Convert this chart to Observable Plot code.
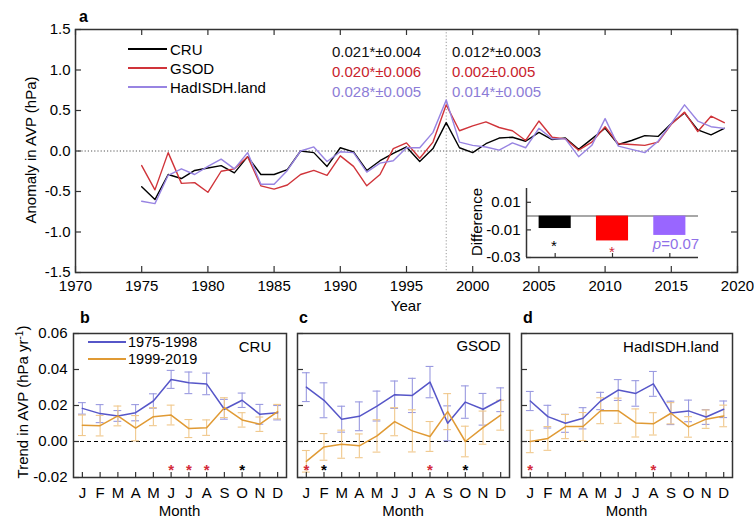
<!DOCTYPE html>
<html><head><meta charset="utf-8">
<script src="https://cdn.jsdelivr.net/npm/d3@7"></script>
<script src="https://cdn.jsdelivr.net/npm/@observablehq/plot@0.6"></script>
<style>
html,body{margin:0;padding:0;background:#fff;}
#root{position:relative;width:754px;height:519px;overflow:hidden;font-family:"Liberation Sans",Arial,sans-serif;color:#000;background:#fff;}
#root svg{position:absolute;overflow:visible;}
.t{position:absolute;white-space:nowrap;line-height:1;}
.ln{position:absolute;height:1.5px;}
</style></head><body><div id="root"></div>
<script>
// ---------- data: panel a (annual anomalies, hPa) ----------
const years = d3.range(1975, 2020);
const cru = [-0.44,-0.60,-0.29,-0.34,-0.24,-0.21,-0.18,-0.27,-0.07,-0.29,
             -0.29,-0.23,0.00,-0.02,-0.19,0.04,-0.01,-0.24,-0.12,-0.03,
             0.05,-0.13,0.03,0.35,0.04,-0.02,0.09,0.16,0.17,0.12,
             0.23,0.14,0.16,0.02,0.15,0.28,0.08,0.13,0.19,0.18,
             0.34,0.47,0.26,0.20,0.28];
const gsod = [-0.18,-0.48,-0.02,-0.40,-0.39,-0.51,-0.25,-0.22,-0.07,-0.43,
              -0.47,-0.42,-0.29,-0.24,-0.30,-0.06,-0.19,-0.43,-0.29,0.03,
              0.10,-0.09,0.11,0.57,0.25,0.31,0.36,0.29,0.25,0.13,
              0.37,0.17,0.15,0.01,0.11,0.30,0.09,0.08,0.07,0.11,
              0.33,0.48,0.24,0.43,0.35];
const hadisdh = [-0.62,-0.65,-0.30,-0.22,-0.29,-0.19,-0.10,-0.22,-0.02,-0.41,
                 -0.41,-0.24,0.00,0.05,-0.13,-0.01,-0.02,-0.26,-0.15,-0.12,
                 0.04,0.04,0.23,0.63,0.11,0.07,0.05,0.01,0.10,0.04,
                 0.28,0.15,0.15,-0.07,0.07,0.40,0.06,0.02,-0.02,0.12,
                 0.34,0.57,0.37,0.30,0.28];
const yearTicks = [1970,1975,1980,1985,1990,1995,2000,2005,2010,2015,2020];
const anomalyTicks = [-1.5,-1.0,-0.5,0.0,0.5,1.0,1.5];
const breakYear = 1998;
const seriesNames = ["CRU","GSOD","HadISDH.land"];
const trendEarly = ["0.021*±0.004","0.020*±0.006","0.028*±0.005"];
const trendLate = ["0.012*±0.003","0.002±0.005","0.014*±0.005"];
// inset: difference of trends
const diffValues = [-0.009,-0.018,-0.014];
const diffTicks = [-0.03,-0.01,0.01];
const diffNotes = ["*","*","p=0.07"];

// ---------- data: panels b-d (monthly trends, hPa/yr) ----------
const months = ["J","F","M","A","M","J","J","A","S","O","N","D"];
const trendTicks = [-0.02,0.00,0.02,0.04,0.06];
const periodNames = ["1975-1998","1999-2019"];
const cruEarly    = [0.0184,0.0155,0.0142,0.0160,0.0225,0.0345,0.0326,0.0320,0.0179,0.0229,0.0151,0.0160];
const cruEarlyErr = [0.0032,0.0050,0.0030,0.0045,0.0040,0.0050,0.0060,0.0060,0.0055,0.0040,0.0055,0.0040];
const cruLate     = [0.0090,0.0088,0.0142,0.0074,0.0138,0.0147,0.0072,0.0077,0.0188,0.0120,0.0096,0.0166];
const cruLateErr  = [0.0057,0.0057,0.0055,0.0070,0.0050,0.0055,0.0050,0.0043,0.0055,0.0040,0.0040,0.0040];
const gsodEarly    = [0.0302,0.0229,0.0124,0.0140,0.0197,0.0260,0.0256,0.0330,0.0101,0.0219,0.0179,0.0232];
const gsodEarlyErr = [0.0080,0.0097,0.0072,0.0080,0.0083,0.0076,0.0095,0.0087,0.0097,0.0090,0.0088,0.0066];
const gsodLate     = [-0.0110,-0.0030,-0.0015,-0.0024,0.0031,0.0110,0.0059,0.0028,0.0166,0.0000,0.0077,0.0146];
const gsodLateErr  = [0.0060,0.0074,0.0078,0.0066,0.0090,0.0078,0.0117,0.0083,0.0100,0.0085,0.0092,0.0083];
const hadEarly    = [0.0225,0.0138,0.0101,0.0129,0.0225,0.0286,0.0267,0.0320,0.0159,0.0170,0.0136,0.0179];
const hadEarlyErr = [0.0053,0.0063,0.0050,0.0059,0.0048,0.0058,0.0071,0.0069,0.0065,0.0060,0.0041,0.0046];
const hadLate     = [0.0000,0.0017,0.0083,0.0083,0.0171,0.0171,0.0103,0.0098,0.0157,0.0081,0.0124,0.0142];
const hadLateErr  = [0.0062,0.0066,0.0067,0.0078,0.0072,0.0070,0.0078,0.0062,0.0059,0.0057,0.0051,0.0060];
// significance stars: [month index (1-12), colour key]
const cruStars  = [[6,"r"],[7,"r"],[8,"r"],[10,"k"]];
const gsodStars = [[1,"r"],[2,"k"],[8,"r"],[10,"k"]];
const hadStars  = [[1,"r"],[8,"r"]];

// ---------- styling ----------
const FONT = '"Liberation Sans", Arial, sans-serif';
const C_CRU = "#000000", C_GSOD = "#d0343a", C_HAD = "#9884e2";
const seriesColors = [C_CRU, C_GSOD, C_HAD];
const textColors = ["#111111", "#c8222c", "#8c7cd6"];
const barColors = ["#000000", "#ff0000", "#9966ff"];
const C_EARLY = "#5656c8", C_LATE = "#e09a34";
const C_EARLY_E = "#9a9ae0", C_LATE_E = "#f0c88c";
const starColors = {r: "#d42a3a", k: "#000000"};

const root = document.getElementById("root");
function place(svg, left, top) { svg.style.position = "absolute"; svg.style.left = left + "px"; svg.style.top = top + "px"; root.appendChild(svg); }
function T(html, x, y, o = {}) {
  const d = document.createElement("div");
  d.className = "t";
  d.innerHTML = html;
  d.style.left = x + "px"; d.style.top = y + "px";
  d.style.fontSize = (o.size || 15) + "px";
  if (o.color) d.style.color = o.color;
  if (o.bold) d.style.fontWeight = "bold";
  const ax = o.anchor === "start" ? "0" : o.anchor === "end" ? "-100%" : "-50%";
  d.style.transform = `translate(${ax},-50%)` + (o.rotate ? ` rotate(${o.rotate}deg)` : "");
  root.appendChild(d);
}
function L(x1, x2, y, color) {
  const d = document.createElement("div");
  d.className = "ln";
  d.style.left = x1 + "px"; d.style.top = (y - 0.75) + "px"; d.style.width = (x2 - x1) + "px"; d.style.background = color;
  root.appendChild(d);
}
const baseStyle = {fontFamily: FONT, fontSize: "15px", color: "#000", background: "none", overflow: "visible"};

// ---------- panel a ----------
{
  const left = 75, right = 737, top = 29, bottom = 272, H = 312;
  const xd = [1970, 2020], yd = [-1.5, 1.5];
  const kx = (xd[1] - xd[0]) / (right - left), ky = (yd[1] - yd[0]) / (bottom - top), tk = 6;
  const p = Plot.plot({
    width: 754, height: H, marginLeft: left, marginRight: 754 - right, marginTop: top, marginBottom: H - bottom,
    x: {domain: xd, ticks: yearTicks, tickSize: 0, tickPadding: 8, tickFormat: d => String(d), label: null},
    y: {domain: yd, ticks: anomalyTicks, tickSize: 0, tickPadding: 5, tickFormat: d => d.toFixed(1), label: null},
    style: baseStyle,
    marks: [
      Plot.ruleY([0], {stroke: "#555", strokeDasharray: "1.2,2", strokeWidth: 1}),
      Plot.ruleX([breakYear], {stroke: "#999", strokeDasharray: "1.2,2", strokeWidth: 1}),
      Plot.ruleX(yearTicks, {x: d => d, y1: yd[0], y2: yd[0] + tk * ky, stroke: "#333", strokeWidth: 1.2}),
      Plot.ruleX(yearTicks, {x: d => d, y1: yd[1], y2: yd[1] - tk * ky, stroke: "#333", strokeWidth: 1.2}),
      Plot.ruleY(anomalyTicks, {y: d => d, x1: xd[0], x2: xd[0] + tk * kx, stroke: "#333", strokeWidth: 1.2}),
      Plot.ruleY(anomalyTicks, {y: d => d, x1: xd[1], x2: xd[1] - tk * kx, stroke: "#333", strokeWidth: 1.2}),
      Plot.line(years, {x: d => d, y: (d, i) => cru[i], stroke: C_CRU, strokeWidth: 1.4}),
      Plot.line(years, {x: d => d, y: (d, i) => gsod[i], stroke: C_GSOD, strokeWidth: 1.4}),
      Plot.line(years, {x: d => d, y: (d, i) => hadisdh[i], stroke: C_HAD, strokeWidth: 1.4}),
      Plot.frame({stroke: "#333", strokeWidth: 1.5})
    ]
  });
  place(p, 0, 0);
}

// ---------- inset ----------
{
  const sl = 460, st = 170, W = 245, H = 95;
  const left = 526, right = 698, top = 188, bottom = 257;
  const xd = [0, diffValues.length], yd = [-0.03, 0.02];
  const kx = (xd[1] - xd[0]) / (right - left), ky = (yd[1] - yd[0]) / (bottom - top);
  const marks = [Plot.ruleY([0], {stroke: "#8a8a8a", strokeWidth: 1.5})];
  diffValues.forEach((v, i) => {
    marks.push(Plot.rectY([v], {x1: () => i + 0.22, x2: () => i + 0.78, y1: () => 0, y2: d => d, fill: barColors[i]}));
  });
  marks.push(
    Plot.ruleX([xd[0]], {stroke: "#333", strokeWidth: 1.5}),
    Plot.ruleY([yd[0]], {stroke: "#333", strokeWidth: 1.5}),
    Plot.ruleY(diffTicks, {y: d => d, x1: xd[0], x2: xd[0] + 5 * kx, stroke: "#333", strokeWidth: 1.2}),
    Plot.ruleX(diffValues.map((d, i) => i + 0.5), {x: d => d, y1: yd[0], y2: yd[0] + 4 * ky, stroke: "#333", strokeWidth: 1.2})
  );
  const p = Plot.plot({
    width: W, height: H, marginLeft: left - sl, marginRight: sl + W - right, marginTop: top - st, marginBottom: st + H - bottom,
    x: {domain: xd, axis: null},
    y: {domain: yd, ticks: diffTicks, tickSize: 0, tickPadding: 6, tickFormat: d => d.toFixed(2), label: null},
    style: baseStyle,
    marks
  });
  place(p, sl, st);
}

// ---------- monthly panels ----------
function monthly(cfg) {
  const {sl, W, left, right, early, earlyErr, late, lateErr, stars, showY} = cfg;
  const st = 290, H = 229, top = 333, bottom = 477;
  const xd = [0.5, 12.5], yd = [-0.02, 0.06];
  const kx = (xd[1] - xd[0]) / (right - left), ky = (yd[1] - yd[0]) / (bottom - top);
  const idx = d3.range(12);
  const cap = 0.22;
  const errMarks = (vals, errs, color) => [
    Plot.ruleX(idx, {x: i => i + 1, y1: i => vals[i] - errs[i], y2: i => vals[i] + errs[i], stroke: color, strokeWidth: 1.1}),
    Plot.ruleY(idx, {y: i => vals[i] + errs[i], x1: i => i + 1 - cap, x2: i => i + 1 + cap, stroke: color, strokeWidth: 1.1}),
    Plot.ruleY(idx, {y: i => vals[i] - errs[i], x1: i => i + 1 - cap, x2: i => i + 1 + cap, stroke: color, strokeWidth: 1.1})
  ];
  const p = Plot.plot({
    width: W, height: H, marginLeft: left - sl, marginRight: sl + W - right, marginTop: top - st, marginBottom: st + H - bottom,
    x: {domain: xd, ticks: idx.map(i => i + 1), tickSize: 0, tickPadding: 10, tickFormat: m => months[m - 1], label: null},
    y: showY
      ? {domain: yd, ticks: trendTicks, tickSize: 0, tickPadding: 6, tickFormat: d => d.toFixed(2), label: null}
      : {domain: yd, axis: null},
    style: baseStyle,
    marks: [
      Plot.ruleY([0], {stroke: "#000", strokeDasharray: "4,3", strokeWidth: 1.2}),
      ...errMarks(early, earlyErr, C_EARLY_E),
      ...errMarks(late, lateErr, C_LATE_E),
      Plot.line(idx, {x: i => i + 1, y: i => early[i], stroke: C_EARLY, strokeWidth: 1.5}),
      Plot.line(idx, {x: i => i + 1, y: i => late[i], stroke: C_LATE, strokeWidth: 1.5}),
      Plot.text(stars, {x: d => d[0], y: () => -0.014, text: () => "*", fill: d => starColors[d[1]], dy: 3, fontSize: 15, fontWeight: "bold"}),
      Plot.ruleY(trendTicks, {y: d => d, x1: xd[0], x2: xd[0] + 6 * kx, stroke: "#333", strokeWidth: 1.2}),
      Plot.ruleX(idx.map(i => i + 1), {x: d => d, y1: yd[0], y2: yd[0] + 5 * ky, stroke: "#333", strokeWidth: 1.2}),
      Plot.frame({stroke: "#333", strokeWidth: 1.5})
    ]
  });
  place(p, sl, st);
}
monthly({sl: 0, W: 290, left: 73, right: 286, early: cruEarly, earlyErr: cruEarlyErr, late: cruLate, lateErr: cruLateErr, stars: cruStars, showY: true});
monthly({sl: 290, W: 225, left: 297, right: 509, early: gsodEarly, earlyErr: gsodEarlyErr, late: gsodLate, lateErr: gsodLateErr, stars: gsodStars, showY: false});
monthly({sl: 515, W: 239, left: 521, right: 732, early: hadEarly, earlyErr: hadEarlyErr, late: hadLate, lateErr: hadLateErr, stars: hadStars, showY: false});

// ---------- text & legends ----------
T("a", 79, 17, {anchor: "start", bold: true, size: 16});
T("b", 80, 318, {anchor: "start", bold: true, size: 16});
T("c", 299, 318, {anchor: "start", bold: true, size: 16});
T("d", 523, 318, {anchor: "start", bold: true, size: 16});
[49, 68, 87].forEach((y, i) => { L(128, 167, y, seriesColors[i]); T(seriesNames[i], 170, y, {anchor: "start"}); });
[51, 71, 91].forEach((y, i) => {
  T(trendEarly[i], 332, y, {anchor: "start", color: textColors[i]});
  T(trendLate[i], 452, y, {anchor: "start", color: textColors[i]});
});
T("Year", 406, 305);
T("Anomaly in AVP (hPa)", 30, 150, {rotate: -90});
T("Difference", 476, 222, {rotate: -90});
T(diffNotes[0], 554, 245, {color: "#000", size: 15});
T(diffNotes[1], 612, 251, {color: "#d42a3a", size: 15});
T('<i>p</i>=0.07', 676, 243, {color: "#8f70e8", size: 15});
[342, 359].forEach((y, i) => { L(88, 126, y, i ? C_LATE : C_EARLY); T(periodNames[i], 128, y, {anchor: "start", size: 14.5}); });
T(seriesNames[0], 255, 345.5);
T(seriesNames[1], 478.5, 344.5);
T(seriesNames[2], 671, 346);
T('Trend in AVP (hPa yr<sup style="font-size:10px;vertical-align:5px">-1</sup>)', 22, 402, {rotate: -90});
T("Month", 179.5, 510);
T("Month", 403, 510);
T("Month", 626.5, 510);
</script></body></html>
